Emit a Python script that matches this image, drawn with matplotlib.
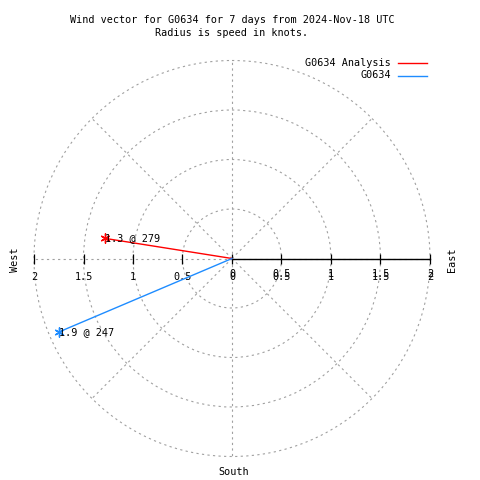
import numpy as np
import matplotlib
matplotlib.use("Agg")
import matplotlib.pyplot as plt
from matplotlib.lines import Line2D

# Wind data (speed in knots, direction in degrees)
series = ["G0634 Analysis", "G0634"]
speeds = [1.3, 1.9]
directions = [279, 247]
colors = ["#ff0000", "#1e8cff"]

rticks = [0.5, 1.0, 1.5, 2.0]
tick_labels = ["0.5", "1", "1.5", "2"]

plt.rcParams["font.family"] = "DejaVu Sans Mono"
plt.rcParams["font.size"] = 7.3

fig = plt.figure(figsize=(4.8, 4.8), dpi=100)
ax = fig.add_axes([34 / 480, 23.5 / 480, 396 / 480, 396 / 480], projection="polar")
ax.set_theta_zero_location("N")
ax.set_theta_direction(-1)
ax.set_rlim(0, 2)
ax.set_rticks(rticks)
ax.set_yticklabels([])
ax.set_thetagrids(np.arange(0, 360, 45), labels=[""] * 8)
ax.grid(color="#a0a0a0", linestyle=(0, (2, 3)), linewidth=0.8)
for gl in ax.yaxis.get_gridlines() + ax.xaxis.get_gridlines():
    gl.set_clip_on(False)
ax.spines["polar"].set_visible(False)
ax.tick_params(length=0)

# black axis from centre to east
east, west = np.radians(90), np.radians(270)
ax.plot([east, east], [0, 2], color="black", lw=1.0, zorder=3, clip_on=False)
ax.plot([east] * 5, [0] + rticks, ls="none", marker="|", ms=7, mew=0.9, color="black", zorder=3, clip_on=False)
ax.plot([west] * 4, rticks, ls="none", marker="|", ms=7, mew=0.9, color="black", zorder=3, clip_on=False)

# tick labels (gnuplot draws the east side twice)
ax.annotate("0", xy=(east, 0), xytext=(0, -13.5), textcoords="offset points", ha="center", va="center")
ax.annotate("0", xy=(east, 0), xytext=(0, -11.5), textcoords="offset points", ha="center", va="center")
for r, lab in zip(rticks, tick_labels):
    ax.annotate(lab, xy=(west, r), xytext=(0, -13.5), textcoords="offset points", ha="center", va="center")
    ax.annotate(lab, xy=(east, r), xytext=(0, -13.5), textcoords="offset points", ha="center", va="center")
    ax.annotate(lab, xy=(east, r), xytext=(0, -11.5), textcoords="offset points", ha="center", va="center")

# vectors
for name, spd, d, c in zip(series, speeds, directions, colors):
    th = np.radians(d)
    ax.plot([0, th], [0, spd], color=c, lw=1.0, zorder=4)
    ax.plot([th], [spd], marker=(6, 2, 0), ms=7, mew=1.0, color=c, zorder=5)
    ax.annotate(f"{spd} @ {d}", xy=(th, spd), xytext=(0, 0), textcoords="offset points",
                ha="left", va="center", zorder=6)

# compass labels
fig.text(15 / 480, 1 - 260 / 480, "West", rotation=90, ha="center", va="center")
fig.text(452 / 480, 1 - 260 / 480, "East", rotation=90, ha="center", va="center")
fig.text(234 / 480, 1 - 472 / 480, "South", ha="center", va="center")

# title
fig.text(232 / 480, 1 - 20 / 480, "Wind vector for G0634 for 7 days from 2024-Nov-18 UTC", ha="center", va="center")
fig.text(232 / 480, 1 - 33 / 480, "Radius is speed in knots.", ha="center", va="center")

# legend
for i, (name, c) in enumerate(zip(series, colors)):
    y = 1 - (63 + 12.5 * i) / 480
    fig.text(391 / 480, y, name, ha="right", va="center")
    fig.add_artist(Line2D([398 / 480, 427 / 480], [y, y], color=c, lw=1.0))

fig.savefig("out.png", dpi=100)
